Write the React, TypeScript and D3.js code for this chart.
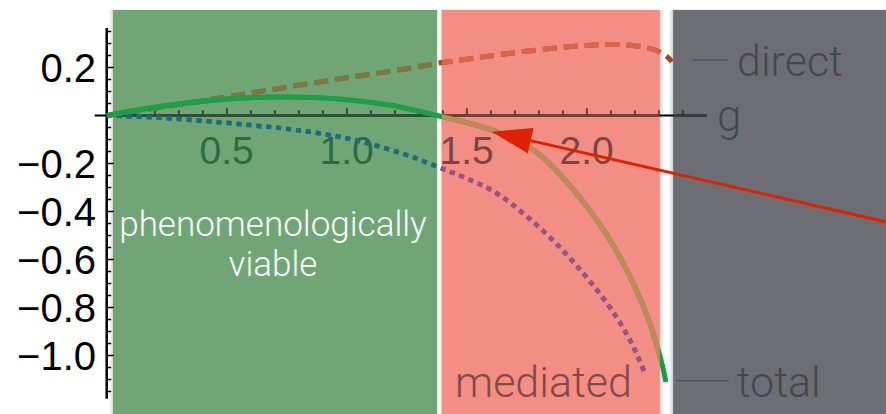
import React from "react";
import * as d3 from "d3";

const W = 886;
const H = 414;

// ---- data (g, value) ----
const gDirect = [0, 0.25, 0.5, 0.75, 1.0, 1.25, 1.376, 1.5, 1.64, 1.85, 2.0, 2.1, 2.2, 2.28, 2.33, 2.355];
const vDirect = [0, 0.038, 0.077, 0.118, 0.157, 0.195, 0.2175, 0.234, 0.254, 0.279, 0.292, 0.296, 0.291, 0.274, 0.249, 0.224];

const gTotal = [0, 0.2, 0.4, 0.6, 0.8, 1.0, 1.2, 1.376, 1.5, 1.64, 1.8, 1.97, 2.11, 2.194, 2.25, 2.29, 2.315, 2.33];
const vTotal = [0, 0.034, 0.059, 0.074, 0.076, 0.066, 0.04, 0, -0.03, -0.074, -0.16, -0.34, -0.54, -0.7, -0.83, -0.95, -1.04, -1.11];

const gMediated = [0, 0.2, 0.4, 0.6, 0.785, 1.0, 1.222, 1.376, 1.5, 1.625, 1.75, 1.889, 2.0, 2.097, 2.18, 2.243];
const vMediated = [0, -0.008, -0.022, -0.04, -0.06, -0.095, -0.155, -0.213, -0.262, -0.324, -0.42, -0.55, -0.675, -0.8, -0.935, -1.075];

const xTickLabels = ["0.5", "1.0", "1.5", "2.0"];
const xTickValues = [0.5, 1.0, 1.5, 2.0];
const yTickLabels = ["0.2", "\u22120.2", "\u22120.4", "\u22120.6", "\u22120.8", "\u22121.0"];
const yTickValues = [0.2, -0.2, -0.4, -0.6, -0.8, -1.0];

const regionNames = ["green", "pink", "gray"];
const regionStart = [0.026, 1.396, 2.36];
const regionEnd = [1.376, 2.305, 3.4];
const regionTop = 0.44;

// annotations in data units
const arrowTip = [1.604, -0.0675];
const arrowTail = [3.32, -0.46];
const directLabelAt = [2.443, 0.231];
const totalLabelAt = [2.375, -1.105];

const fills: Record<string, string> = { green: "#70a676", pink: "#f28e83", gray: "#6d6e74" };
const colors: Record<string, Record<string, string>> = {
  total: { base: "#12a03f", green: "#1f9e4a", pink: "#c28a58" },
  direct: { base: "#9b4a1e", green: "#7e7943", pink: "#d9664a" },
  mediated: { base: "#2a5fa8", green: "#1d6e72", pink: "#a4507f" },
  axis: { base: "#000000", green: "#2d4f36", pink: "#6d3f3b", gray: "#3b3c41" },
};
const tickLabelColor: Record<string, string> = { green: "#2e6a40", pink: "#7d4444", base: "#000" };

export default function App() {
  const x = d3.scaleLinear().domain([0, 1]).range([106.7, 346.7]);
  const y = d3.scaleLinear().domain([0, 1]).range([115.5, -124.5]);

  const zoneOf = (g: number) => {
    for (let i = 0; i < regionNames.length; i++) if (g >= regionStart[i] && g <= regionEnd[i]) return regionNames[i];
    return "base";
  };

  const line = d3
    .line<[number, number]>()
    .x((d) => x(d[0]))
    .y((d) => y(d[1]))
    .curve(d3.curveCatmullRom.alpha(0.5));

  const mk = (gs: number[], vs: number[]) => line(gs.map((g, i) => [g, vs[i]] as [number, number])) || "";
  const curves = [
    { key: "direct", d: mk(gDirect, vDirect), dash: "14,7", w: 5 },
    { key: "mediated", d: mk(gMediated, vMediated), dash: "5,5", w: 4.5 },
    { key: "total", d: mk(gTotal, vTotal), dash: undefined, w: 5 },
  ];

  const y0 = y(0);
  const xAxisPath = `M${x(-0.05)},${y0}H${x(2.5)}`;
  const xTicks: number[] = d3.range(1, 25).map((i) => i / 10);
  const yMinor: number[] = d3.range(-23, 8).map((i) => i * 0.05);

  const axisGroup = (stroke: string) => (
    <g stroke={stroke} fill="none">
      <path d={xAxisPath} strokeWidth={2} />
      {xTicks.map((t, i) => (
        <line key={i} x1={x(t)} x2={x(t)} y1={y0} y2={y0 - (Math.abs(t * 2 - Math.round(t * 2)) < 1e-6 ? 7 : 5)} strokeWidth={1.5} />
      ))}
    </g>
  );

  const tipX = x(arrowTip[0]);
  const tipY = y(arrowTip[1]);
  const tailX = x(arrowTail[0]);
  const tailY = y(arrowTail[1]);
  const ang = Math.atan2(tailY - tipY, tailX - tipX);
  const headL = 40;
  const headW = 13;
  const bx = tipX + headL * Math.cos(ang);
  const by = tipY + headL * Math.sin(ang);
  const px = -Math.sin(ang) * headW;
  const py = Math.cos(ang) * headW;

  const labelFont = "Roboto, 'Helvetica Neue', 'Liberation Sans', sans-serif";
  const tickFont = "'Liberation Sans', Arial, Helvetica, sans-serif";

  return (
    <svg width={W} height={H} style={{ position: "absolute", left: 0, top: 0 }}>
      <defs>
        {regionNames.map((n, i) => (
          <clipPath id={`clip-${n}`} key={n}>
            <rect x={x(regionStart[i])} y={0} width={x(regionEnd[i]) - x(regionStart[i])} height={H} />
          </clipPath>
        ))}
        <linearGradient id="gapGrad" x1="0" x2="1" y1="0" y2="0">
          <stop offset="0" stopColor="#d6d6d6" />
          <stop offset="0.35" stopColor="#ffffff" />
          <stop offset="0.65" stopColor="#ffffff" />
          <stop offset="1" stopColor="#d0d0d0" />
        </linearGradient>
        <linearGradient id="edgeGrad" x1="0" x2="1" y1="0" y2="0">
          <stop offset="0" stopColor="#ffffff" />
          <stop offset="1" stopColor="#dcdcdc" />
        </linearGradient>
      </defs>
      <rect x={0} y={0} width={W} height={H} fill="#fff" />
      {/* gaps */}
      <rect x={x(regionStart[0]) - 4} y={y(regionTop)} width={4} height={H} fill="url(#edgeGrad)" />
      {regionNames.slice(0, -1).map((n, i) => (
        <rect key={n} x={x(regionEnd[i])} y={y(regionTop)} width={x(regionStart[i + 1]) - x(regionEnd[i])} height={H} fill="url(#gapGrad)" />
      ))}
      {/* regions */}
      {regionNames.map((n, i) => (
        <rect key={n} x={x(regionStart[i])} y={y(regionTop)} width={x(regionEnd[i]) - x(regionStart[i])} height={H} fill={fills[n]} />
      ))}

      {/* y axis */}
      <g stroke="#000" fill="none">
        <line x1={x(0)} x2={x(0)} y1={y(0.365)} y2={y(-1.18)} strokeWidth={2.5} />
        {yMinor.map((t, i) => {
          const major = Math.abs(t * 5 - Math.round(t * 5)) < 1e-6;
          return <line key={i} x1={x(0)} x2={x(0) + (major ? 7 : 4.5)} y1={y(t)} y2={y(t)} strokeWidth={1.5} />;
        })}
      </g>
      {yTickValues.map((v, i) => (
        <text key={i} x={96} y={y(v) + 14} textAnchor="end" fontFamily={tickFont} fontSize={40} fill="#000">
          {yTickLabels[i]}
        </text>
      ))}

      {/* x axis, colored per region */}
      {axisGroup(colors.axis.base)}
      {regionNames.map((n) => (
        <g key={n} clipPath={`url(#clip-${n})`}>
          {axisGroup(colors.axis[n])}
        </g>
      ))}
      {xTickValues.map((v, i) => (
        <text key={i} x={x(v)} y={y0 + 48} textAnchor="middle" fontFamily={tickFont} fontSize={39} fill={tickLabelColor[zoneOf(v)]}>
          {xTickLabels[i]}
        </text>
      ))}

      {/* curves */}
      {curves.map((c) => (
        <g key={c.key}>
          <path d={c.d} fill="none" stroke={colors[c.key].base} strokeWidth={c.w} strokeDasharray={c.dash} />
          {["green", "pink"].map((n) => (
            <path key={n} d={c.d} clipPath={`url(#clip-${n})`} fill="none" stroke={colors[c.key][n]} strokeWidth={c.w} strokeDasharray={c.dash} />
          ))}
        </g>
      ))}

      {/* region labels */}
      <text x={273} y={236} textAnchor="middle" fontFamily={labelFont} fontWeight={300} fontSize={35} fill="#ffffff">
        phenomenologically
      </text>
      <text x={273} y={276} textAnchor="middle" fontFamily={labelFont} fontWeight={300} fontSize={35} fill="#ffffff">
        viable
      </text>
      <text x={455} y={397} fontFamily={labelFont} fontWeight={300} fontSize={43} fill="#86474a">
        mediated
      </text>

      {/* axis name and curve labels */}
      <text x={717} y={131} fontFamily={labelFont} fontWeight={300} fontSize={44} fill="#45484d">
        g
      </text>
      <line x1={x(directLabelAt[0])} x2={x(directLabelAt[0]) + 35} y1={y(directLabelAt[1])} y2={y(directLabelAt[1])} stroke="#4b4e53" strokeWidth={1.2} />
      <text x={x(directLabelAt[0]) + 44} y={y(directLabelAt[1]) + 16} fontFamily={labelFont} fontWeight={300} fontSize={43} fill="#45484d">
        direct
      </text>
      <line x1={x(totalLabelAt[0])} x2={x(totalLabelAt[0]) + 52} y1={y(totalLabelAt[1])} y2={y(totalLabelAt[1])} stroke="#4b4e53" strokeWidth={1.2} />
      <text x={x(totalLabelAt[0]) + 60} y={y(totalLabelAt[1]) + 16} fontFamily={labelFont} fontWeight={300} fontSize={43} fill="#45484d">
        total
      </text>

      {/* arrow */}
      <line x1={tailX} y1={tailY} x2={bx} y2={by} stroke="#dd2200" strokeWidth={3} />
      <path d={`M${tipX},${tipY}L${bx + px},${by + py}L${bx - px},${by - py}Z`} fill="#dd2200" />
    </svg>
  );
}
